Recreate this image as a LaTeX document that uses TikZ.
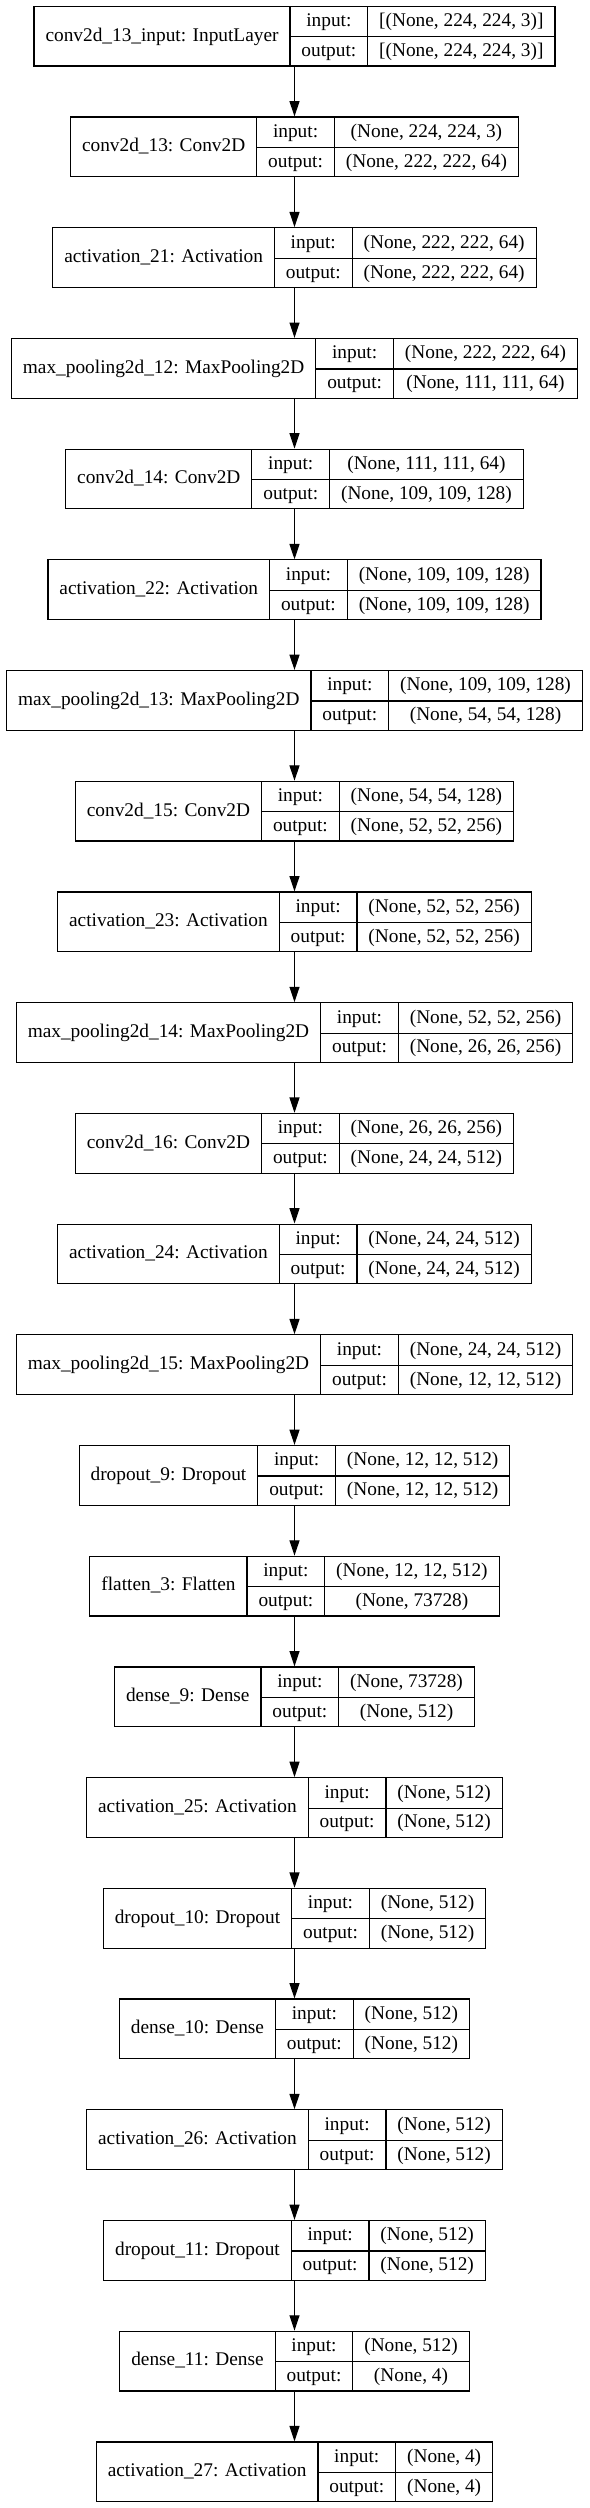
\documentclass[tikz,border=0pt]{standalone}
\usepackage{fontspec}
\setmainfont{Liberation Serif}
\usetikzlibrary{arrows.meta}

\setlength{\tabcolsep}{8.6pt}
\setlength{\arrayrulewidth}{0.9pt}
\newcommand{\rowstrut}{\rule[-7.1pt]{0pt}{22.4pt}}
% one keras layer: name | input:/output: | shapes
\newcommand{\layerrec}[3]{%
  \begin{tabular}{c|c|c}
    \rowstrut & input: & #2\\ \cline{2-3}
    \rowstrut\raisebox{11.65pt}[0pt][0pt]{#1} & output: & #3
  \end{tabular}}

\begin{document}
\begin{tikzpicture}[x=0.75pt, y=0.75pt, node distance=83.03pt,
        layerbox/.style={draw, line width=0.9pt, inner sep=0pt, fill=white, font=\fontsize{14.5pt}{17pt}\selectfont},
        flow/.style={-{Triangle[length=11.5pt,width=7.5pt]}, line width=0.9pt}]

    \useasboundingbox (0,0) rectangle (589,-2508);

    \node (conv13in) [layerbox] at (294.5,-36.2) {\layerrec{conv2d\_13\_input: InputLayer}{[(None, 224, 224, 3)]}{[(None, 224, 224, 3)]}};
    \node (conv13) [layerbox,below of=conv13in] {\layerrec{conv2d\_13: Conv2D}{(None, 224, 224, 3)}{(None, 222, 222, 64)}};
    \node (act21) [layerbox,below of=conv13] {\layerrec{activation\_21: Activation}{(None, 222, 222, 64)}{(None, 222, 222, 64)}};
    \node (pool12) [layerbox,below of=act21] {\layerrec{max\_pooling2d\_12: MaxPooling2D}{(None, 222, 222, 64)}{(None, 111, 111, 64)}};
    \node (conv14) [layerbox,below of=pool12] {\layerrec{conv2d\_14: Conv2D}{(None, 111, 111, 64)}{(None, 109, 109, 128)}};
    \node (act22) [layerbox,below of=conv14] {\layerrec{activation\_22: Activation}{(None, 109, 109, 128)}{(None, 109, 109, 128)}};
    \node (pool13) [layerbox,below of=act22] {\layerrec{max\_pooling2d\_13: MaxPooling2D}{(None, 109, 109, 128)}{(None, 54, 54, 128)}};
    \node (conv15) [layerbox,below of=pool13] {\layerrec{conv2d\_15: Conv2D}{(None, 54, 54, 128)}{(None, 52, 52, 256)}};
    \node (act23) [layerbox,below of=conv15] {\layerrec{activation\_23: Activation}{(None, 52, 52, 256)}{(None, 52, 52, 256)}};
    \node (pool14) [layerbox,below of=act23] {\layerrec{max\_pooling2d\_14: MaxPooling2D}{(None, 52, 52, 256)}{(None, 26, 26, 256)}};
    \node (conv16) [layerbox,below of=pool14] {\layerrec{conv2d\_16: Conv2D}{(None, 26, 26, 256)}{(None, 24, 24, 512)}};
    \node (act24) [layerbox,below of=conv16] {\layerrec{activation\_24: Activation}{(None, 24, 24, 512)}{(None, 24, 24, 512)}};
    \node (pool15) [layerbox,below of=act24] {\layerrec{max\_pooling2d\_15: MaxPooling2D}{(None, 24, 24, 512)}{(None, 12, 12, 512)}};
    \node (drop9) [layerbox,below of=pool15] {\layerrec{dropout\_9: Dropout}{(None, 12, 12, 512)}{(None, 12, 12, 512)}};
    \node (flat3) [layerbox,below of=drop9] {\layerrec{flatten\_3: Flatten}{(None, 12, 12, 512)}{(None, 73728)}};
    \node (dense9) [layerbox,below of=flat3] {\layerrec{dense\_9: Dense}{(None, 73728)}{(None, 512)}};
    \node (act25) [layerbox,below of=dense9] {\layerrec{activation\_25: Activation}{(None, 512)}{(None, 512)}};
    \node (drop10) [layerbox,below of=act25] {\layerrec{dropout\_10: Dropout}{(None, 512)}{(None, 512)}};
    \node (dense10) [layerbox,below of=drop10] {\layerrec{dense\_10: Dense}{(None, 512)}{(None, 512)}};
    \node (act26) [layerbox,below of=dense10] {\layerrec{activation\_26: Activation}{(None, 512)}{(None, 512)}};
    \node (drop11) [layerbox,below of=act26] {\layerrec{dropout\_11: Dropout}{(None, 512)}{(None, 512)}};
    \node (dense11) [layerbox,below of=drop11] {\layerrec{dense\_11: Dense}{(None, 512)}{(None, 4)}};
    \node (act27) [layerbox,below of=dense11] {\layerrec{activation\_27: Activation}{(None, 4)}{(None, 4)}};

    \draw [flow] (conv13in)--(conv13);
    \draw [flow] (conv13)--(act21);
    \draw [flow] (act21)--(pool12);
    \draw [flow] (pool12)--(conv14);
    \draw [flow] (conv14)--(act22);
    \draw [flow] (act22)--(pool13);
    \draw [flow] (pool13)--(conv15);
    \draw [flow] (conv15)--(act23);
    \draw [flow] (act23)--(pool14);
    \draw [flow] (pool14)--(conv16);
    \draw [flow] (conv16)--(act24);
    \draw [flow] (act24)--(pool15);
    \draw [flow] (pool15)--(drop9);
    \draw [flow] (drop9)--(flat3);
    \draw [flow] (flat3)--(dense9);
    \draw [flow] (dense9)--(act25);
    \draw [flow] (act25)--(drop10);
    \draw [flow] (drop10)--(dense10);
    \draw [flow] (dense10)--(act26);
    \draw [flow] (act26)--(drop11);
    \draw [flow] (drop11)--(dense11);
    \draw [flow] (dense11)--(act27);
\end{tikzpicture}
\end{document}
